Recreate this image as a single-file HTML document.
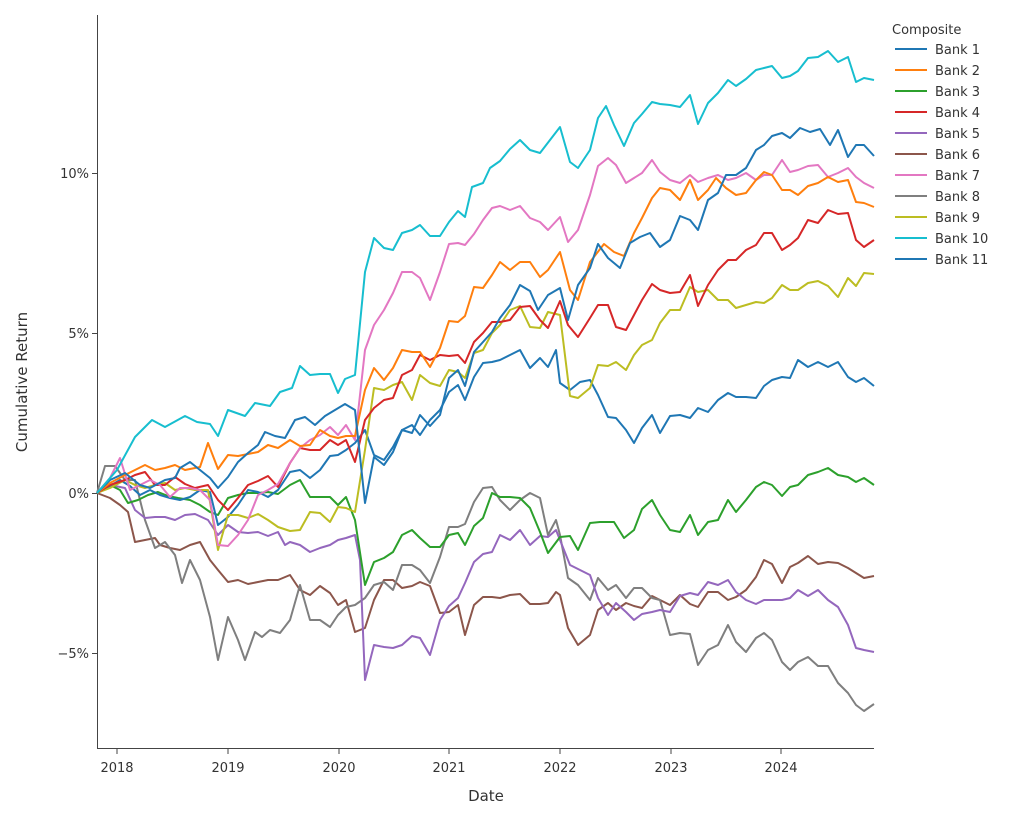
<!DOCTYPE html>
<html><head><meta charset="utf-8"><style>
body{margin:0;background:#fff;}
svg{display:block;font-family:"DejaVu Sans","Liberation Sans",sans-serif;}
polyline{fill:none;stroke-width:2;stroke-linejoin:round;}
</style></head><body>
<svg width="1024" height="816" viewBox="0 0 1024 816">
<rect width="1024" height="816" fill="#fff"/>
<g stroke="#444" stroke-width="1">
<line x1="97.5" y1="15" x2="97.5" y2="749"/>
<line x1="97" y1="748.5" x2="874" y2="748.5"/>
<line x1="92" y1="173.5" x2="97" y2="173.5"/><line x1="92" y1="333.5" x2="97" y2="333.5"/><line x1="92" y1="493.5" x2="97" y2="493.5"/><line x1="92" y1="653.5" x2="97" y2="653.5"/>
<line x1="117" y1="749" x2="117" y2="754"/><line x1="228" y1="749" x2="228" y2="754"/><line x1="339" y1="749" x2="339" y2="754"/><line x1="449" y1="749" x2="449" y2="754"/><line x1="560" y1="749" x2="560" y2="754"/><line x1="671" y1="749" x2="671" y2="754"/><line x1="781" y1="749" x2="781" y2="754"/>
</g>
<g font-size="13" fill="#333" text-anchor="end">
<text x="89" y="178">10%</text><text x="89" y="338">5%</text><text x="89" y="498">0%</text><text x="89" y="658">−5%</text>
</g>
<g font-size="13" fill="#333" text-anchor="middle">
<text x="117" y="772">2018</text><text x="228" y="772">2019</text><text x="339" y="772">2020</text><text x="449" y="772">2021</text><text x="560" y="772">2022</text><text x="671" y="772">2023</text><text x="781" y="772">2024</text>
<text x="486" y="801" font-size="15">Date</text>
<text x="27" y="382" font-size="15" transform="rotate(-90 27 382)">Cumulative Return</text>
</g>
<polyline stroke="#8c564b" points="97,493 110,498 120,505 128,512 135,542 145,540 155,538 160,545 170,548 180,550 190,545 200,542 210,560 218,570 228,582 238,580 248,584 258,582 268,580 278,580 290,575 300,590 310,595 320,586 330,593 338,605 346,600 355,632 365,628 374,600 384,580 393,580 402,588 412,586 420,582 430,586 440,613 449,612 458,605 465,635 474,605 483,597 492,597 500,598 510,595 520,594 530,604 540,604 548,603 556,592 560,595 568,628 578,645 590,635 598,610 608,603 616,610 626,603 634,606 642,608 652,596 660,600 670,605 680,595 690,604 698,607 708,592 718,592 728,600 736,597 746,590 756,577 764,560 772,564 782,583 790,567 798,563 808,556 818,564 828,562 838,563 848,568 856,573 864,578 874,576"/>
<polyline stroke="#7f7f7f" points="97,493 105,466 115,466 125,480 135,480 145,520 155,548 165,542 175,555 182,583 190,560 200,580 210,617 218,660 228,617 238,640 245,660 255,632 262,637 270,630 280,633 290,620 300,585 310,620 320,620 330,627 338,615 346,607 355,605 365,598 374,585 384,582 393,590 402,565 412,565 420,570 430,583 440,557 449,527 458,527 465,524 474,502 483,488 492,487 500,500 510,510 520,500 530,493 540,498 548,535 556,520 560,535 568,578 578,585 590,600 598,578 608,590 616,585 626,598 634,588 642,588 652,598 660,600 670,635 680,633 690,634 698,665 708,650 718,645 728,625 736,642 746,652 756,638 764,633 772,640 782,662 790,670 798,662 808,657 818,666 828,666 838,683 848,693 856,705 864,711 874,704"/>
<polyline stroke="#9467bd" points="97,493 110,485 125,488 135,510 145,518 155,517 165,517 175,520 185,515 195,514 208,520 218,535 228,525 238,532 248,533 258,532 268,536 278,532 285,545 290,542 300,545 310,552 320,548 330,545 338,540 346,538 355,535 360,560 365,680 374,645 384,647 393,648 402,645 412,636 420,638 430,655 440,620 449,606 458,598 465,583 474,562 483,554 492,552 500,535 510,540 520,530 530,545 540,536 548,537 556,530 560,540 570,565 580,570 590,575 598,598 608,615 616,603 626,612 634,620 642,614 652,612 660,610 670,612 680,596 690,593 698,595 708,582 718,585 728,580 736,592 746,600 756,604 764,600 772,600 782,600 790,598 798,590 808,596 818,590 828,600 838,607 848,625 856,648 864,650 874,652"/>
<polyline stroke="#2ca02c" points="97,493 110,485 120,490 128,503 138,500 148,495 158,492 168,496 178,498 190,500 200,505 210,512 218,515 228,498 238,495 248,493 258,493 268,492 278,494 290,485 300,480 310,497 320,497 330,497 338,505 346,497 355,520 365,585 374,562 384,558 393,552 402,535 412,530 420,538 430,547 440,547 449,535 458,533 465,545 474,526 483,518 492,493 500,497 510,497 520,498 530,508 540,532 548,553 560,537 570,536 578,550 590,523 600,522 614,522 624,538 634,530 642,509 652,500 660,515 670,530 680,532 690,515 698,535 708,522 718,520 728,500 736,512 746,500 756,487 764,482 772,485 782,496 790,487 798,485 808,475 818,472 828,468 838,475 848,477 856,482 864,478 874,485"/>
<polyline stroke="#1f77b4" points="97,493 110,486 120,480 130,486 140,495 150,490 160,495 170,498 180,500 190,497 200,490 210,492 218,525 228,517 238,505 248,490 258,492 268,497 278,490 290,472 300,470 310,478 320,470 330,456 338,455 346,450 355,443 365,430 374,455 384,460 393,447 402,430 412,425 420,435 430,420 440,410 449,392 458,385 465,400 474,377 483,363 492,362 500,360 510,355 520,350 530,368 540,358 548,367 556,350 560,383 570,390 580,382 590,380 598,395 608,417 616,418 626,430 634,443 642,428 652,415 660,433 670,416 680,415 690,418 698,408 708,412 718,400 728,393 736,397 746,397 756,398 764,386 772,380 782,377 790,378 798,360 808,367 818,362 828,367 838,362 848,377 856,382 864,378 874,386"/>
<polyline stroke="#bcbd22" points="97,493 110,488 125,480 135,485 145,488 155,485 165,483 175,490 185,488 195,490 208,490 218,550 228,515 238,515 248,518 258,514 268,520 278,527 290,531 300,530 310,512 320,513 330,522 338,507 346,508 355,512 365,450 374,388 384,390 393,385 402,382 412,400 420,375 430,383 440,386 449,370 458,372 465,378 474,353 483,350 492,333 500,325 510,310 520,306 530,327 540,328 548,312 560,315 570,396 578,398 590,388 598,365 608,366 616,362 626,370 634,355 642,345 652,340 660,323 670,310 680,310 690,287 698,292 708,290 718,300 728,300 736,308 746,305 756,302 764,303 772,298 782,285 790,290 798,290 808,283 818,281 828,286 838,297 848,278 856,286 864,273 874,274"/>
<polyline stroke="#d62728" points="97,493 110,485 125,480 135,475 145,472 155,485 165,485 175,477 185,484 195,488 208,485 218,500 228,510 238,498 248,485 258,481 268,476 278,487 290,463 300,448 310,450 320,450 330,440 338,445 346,440 355,462 365,420 374,408 384,400 393,398 402,375 412,370 420,355 430,360 440,355 449,356 458,355 465,363 474,342 483,333 492,322 500,322 510,320 520,307 530,306 540,320 548,328 560,301 568,325 578,337 590,318 598,305 608,305 616,327 626,330 634,315 642,300 652,284 660,290 670,293 680,292 690,275 698,306 708,285 718,270 728,260 736,260 746,250 756,245 764,233 772,233 782,250 790,245 798,238 808,220 818,223 828,210 838,214 848,213 856,240 864,247 874,240"/>
<polyline stroke="#e377c2" points="97,493 110,478 120,458 130,490 140,485 150,480 160,485 170,497 180,488 190,488 200,490 210,500 218,545 228,546 238,535 248,520 258,495 268,490 278,484 290,463 300,448 310,440 320,435 330,427 338,435 346,425 355,440 365,350 374,325 384,310 393,293 402,272 412,272 420,278 430,300 440,272 449,244 458,243 465,245 474,234 483,220 492,208 500,206 510,210 520,206 530,218 540,222 548,230 560,217 568,242 578,230 590,195 598,166 608,158 616,165 626,183 634,178 642,173 652,160 660,172 670,180 680,183 690,175 698,182 708,178 718,175 728,180 736,178 746,173 756,180 764,175 772,175 782,160 790,172 798,170 808,166 818,165 828,177 838,173 848,168 856,177 864,183 874,188"/>
<polyline stroke="#ff7f0e" points="97,493 110,483 125,475 135,470 145,465 155,470 165,468 175,465 185,470 200,467 208,443 218,469 228,455 238,456 248,454 258,452 268,445 278,448 290,440 300,446 310,445 320,430 330,436 338,438 346,436 355,436 365,390 374,368 384,380 393,368 402,350 412,352 420,352 430,367 440,348 449,321 458,322 465,316 474,287 483,288 492,275 500,262 510,270 520,262 530,262 540,277 548,270 560,252 570,290 578,300 590,262 604,244 614,252 624,256 634,233 642,218 652,198 660,188 670,190 680,200 690,180 698,200 708,190 716,178 726,188 736,195 746,193 756,180 764,172 772,175 782,190 790,190 798,195 808,186 818,183 828,177 838,182 848,180 856,202 864,203 874,207"/>
<polyline stroke="#1f77b4" points="97,493 110,480 125,473 140,485 150,488 165,480 175,478 180,468 190,462 200,470 210,478 218,488 228,477 238,462 248,453 258,445 265,432 275,436 285,438 295,420 305,417 315,425 325,416 335,410 345,404 355,410 365,503 374,457 384,465 393,452 402,430 412,433 420,415 430,426 440,415 449,378 458,370 465,386 474,352 483,342 492,332 500,318 510,305 520,285 530,291 538,310 548,295 560,288 568,320 578,285 590,268 598,244 608,258 620,268 630,243 640,237 650,233 660,247 670,240 680,216 690,220 698,230 708,200 718,193 726,175 736,175 746,168 756,150 764,145 772,136 782,133 790,138 800,128 810,132 820,129 830,145 838,130 848,157 856,145 864,145 874,156"/>
<polyline stroke="#17becf" points="97,493 117,470 135,437 152,420 165,427 185,416 197,422 210,424 218,436 228,410 245,416 255,403 270,406 280,392 292,388 300,366 310,375 320,374 330,374 338,393 345,379 355,375 365,272 374,238 384,248 393,250 402,233 412,230 420,225 430,236 440,236 449,222 458,211 465,217 472,187 483,183 490,168 500,161 510,149 520,140 530,150 540,153 550,140 560,127 570,162 578,168 590,150 598,118 606,106 614,125 624,146 634,123 642,114 652,102 660,104 670,105 680,107 690,95 698,124 708,103 718,93 728,80 736,86 746,79 756,70 764,68 772,66 782,78 790,76 798,71 808,58 818,57 828,51 838,62 848,57 856,82 864,78 874,80"/>
<g font-size="13" fill="#333">
<text x="892" y="34">Composite</text>
<g stroke-width="2">
<line x1="895" y1="49" x2="927" y2="49" stroke="#1f77b4"/><text x="935" y="54" stroke="none">Bank 1</text>
<line x1="895" y1="70" x2="927" y2="70" stroke="#ff7f0e"/><text x="935" y="75" stroke="none">Bank 2</text>
<line x1="895" y1="91" x2="927" y2="91" stroke="#2ca02c"/><text x="935" y="96" stroke="none">Bank 3</text>
<line x1="895" y1="112" x2="927" y2="112" stroke="#d62728"/><text x="935" y="117" stroke="none">Bank 4</text>
<line x1="895" y1="133" x2="927" y2="133" stroke="#9467bd"/><text x="935" y="138" stroke="none">Bank 5</text>
<line x1="895" y1="154" x2="927" y2="154" stroke="#8c564b"/><text x="935" y="159" stroke="none">Bank 6</text>
<line x1="895" y1="175" x2="927" y2="175" stroke="#e377c2"/><text x="935" y="180" stroke="none">Bank 7</text>
<line x1="895" y1="196" x2="927" y2="196" stroke="#7f7f7f"/><text x="935" y="201" stroke="none">Bank 8</text>
<line x1="895" y1="217" x2="927" y2="217" stroke="#bcbd22"/><text x="935" y="222" stroke="none">Bank 9</text>
<line x1="895" y1="238" x2="927" y2="238" stroke="#17becf"/><text x="935" y="243" stroke="none">Bank 10</text>
<line x1="895" y1="259" x2="927" y2="259" stroke="#1f77b4"/><text x="935" y="264" stroke="none">Bank 11</text>
</g></g>
</svg>
</body></html>
